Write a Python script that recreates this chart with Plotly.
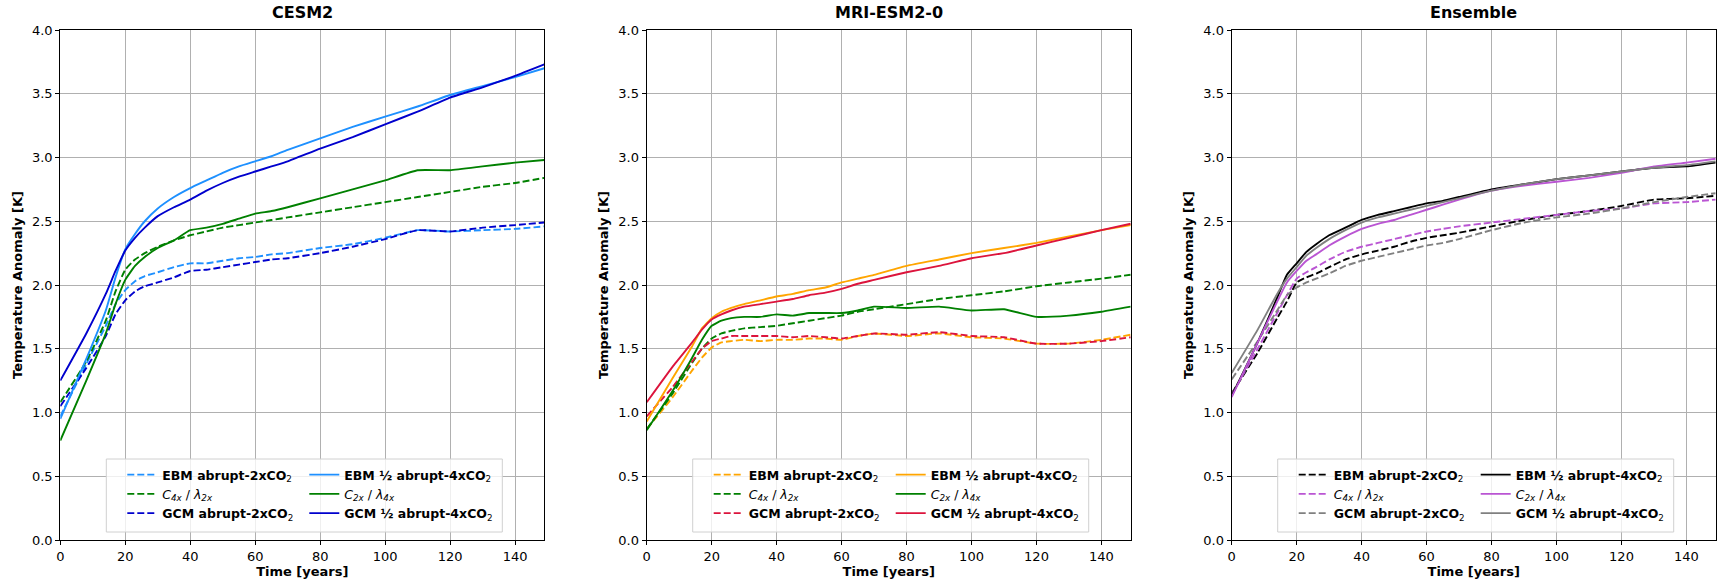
import plotly.graph_objects as go

# Years at which each temperature-anomaly series is sampled
years = [0, 8, 14, 17, 20, 23, 26, 30, 35, 40, 45, 50, 55, 60, 65, 70,
         80, 90, 100, 110, 120, 130, 140, 149]

# ---- CESM2 ----
cesm_ebm_2x = [0.97, 1.38, 1.68, 1.85, 1.96, 2.03, 2.07, 2.10, 2.14, 2.17, 2.17, 2.19,
               2.21, 2.22, 2.24, 2.25, 2.29, 2.32, 2.37, 2.43, 2.42, 2.43, 2.44, 2.46]
cesm_c4x_l2x = [1.08, 1.40, 1.72, 1.95, 2.12, 2.20, 2.25, 2.30, 2.35, 2.39, 2.42, 2.45,
                2.47, 2.49, 2.51, 2.53, 2.57, 2.61, 2.65, 2.69, 2.73, 2.77, 2.80, 2.84]
cesm_gcm_2x = [1.05, 1.35, 1.60, 1.77, 1.88, 1.95, 1.99, 2.02, 2.06, 2.11, 2.12, 2.14,
               2.16, 2.18, 2.20, 2.21, 2.25, 2.30, 2.36, 2.43, 2.42, 2.45, 2.47, 2.49]
cesm_ebm_4x = [0.95, 1.42, 1.80, 2.06, 2.28, 2.40, 2.50, 2.60, 2.69, 2.76, 2.82, 2.88,
               2.93, 2.97, 3.01, 3.06, 3.15, 3.24, 3.32, 3.40, 3.49, 3.56, 3.63, 3.70]
cesm_c2x_l4x = [0.78, 1.25, 1.62, 1.85, 2.04, 2.15, 2.22, 2.29, 2.35, 2.43, 2.45, 2.48,
                2.52, 2.56, 2.58, 2.61, 2.68, 2.75, 2.82, 2.90, 2.90, 2.93, 2.96, 2.98]
cesm_gcm_4x = [1.25, 1.62, 1.93, 2.11, 2.27, 2.37, 2.45, 2.54, 2.61, 2.67, 2.74, 2.80,
               2.85, 2.89, 2.93, 2.97, 3.07, 3.16, 3.26, 3.36, 3.47, 3.55, 3.64, 3.73]

# ---- MRI-ESM2-0 ----
mri_ebm_2x = [0.87, 1.12, 1.33, 1.43, 1.51, 1.55, 1.56, 1.57, 1.56, 1.57, 1.57, 1.58,
              1.58, 1.57, 1.60, 1.62, 1.60, 1.62, 1.59, 1.58, 1.54, 1.54, 1.57, 1.61]
mri_c4x_l2x = [0.87, 1.15, 1.39, 1.50, 1.58, 1.62, 1.64, 1.66, 1.67, 1.68, 1.70, 1.72,
               1.74, 1.76, 1.79, 1.81, 1.85, 1.89, 1.92, 1.95, 1.99, 2.02, 2.05, 2.08]
mri_gcm_2x = [0.97, 1.20, 1.40, 1.50, 1.56, 1.58, 1.60, 1.60, 1.60, 1.60, 1.59, 1.60,
              1.59, 1.58, 1.60, 1.62, 1.61, 1.63, 1.60, 1.59, 1.54, 1.54, 1.56, 1.59]
mri_ebm_4x = [0.93, 1.27, 1.52, 1.66, 1.74, 1.79, 1.82, 1.85, 1.88, 1.91, 1.93, 1.96,
              1.98, 2.02, 2.05, 2.08, 2.15, 2.20, 2.25, 2.29, 2.33, 2.38, 2.43, 2.47]
mri_c2x_l4x = [0.86, 1.17, 1.43, 1.57, 1.68, 1.72, 1.74, 1.75, 1.75, 1.77, 1.76, 1.78,
               1.78, 1.78, 1.80, 1.83, 1.82, 1.83, 1.80, 1.81, 1.75, 1.76, 1.79, 1.83]
mri_gcm_4x = [1.08, 1.36, 1.55, 1.65, 1.73, 1.77, 1.80, 1.83, 1.85, 1.87, 1.89, 1.92,
              1.94, 1.97, 2.01, 2.04, 2.10, 2.15, 2.21, 2.25, 2.31, 2.37, 2.43, 2.48]

# ---- Ensemble ----
ens_ebm_2x = [1.15, 1.47, 1.74, 1.87, 2.02, 2.06, 2.09, 2.14, 2.20, 2.24, 2.27, 2.30,
              2.34, 2.37, 2.39, 2.41, 2.46, 2.51, 2.55, 2.58, 2.62, 2.67, 2.68, 2.70]
ens_c4x_l2x = [1.14, 1.50, 1.78, 1.92, 2.05, 2.10, 2.14, 2.20, 2.26, 2.30, 2.33, 2.36,
               2.39, 2.42, 2.44, 2.46, 2.49, 2.52, 2.55, 2.58, 2.60, 2.64, 2.65, 2.67]
ens_gcm_2x = [1.26, 1.56, 1.80, 1.92, 1.98, 2.02, 2.05, 2.09, 2.15, 2.19, 2.22, 2.25,
              2.28, 2.31, 2.33, 2.36, 2.43, 2.49, 2.53, 2.56, 2.60, 2.65, 2.69, 2.72]
ens_ebm_4x = [1.13, 1.55, 1.90, 2.08, 2.17, 2.26, 2.32, 2.39, 2.45, 2.51, 2.55, 2.58,
              2.61, 2.64, 2.66, 2.69, 2.75, 2.79, 2.83, 2.86, 2.89, 2.92, 2.93, 2.96]
ens_c2x_l4x = [1.12, 1.55, 1.87, 2.02, 2.11, 2.19, 2.24, 2.31, 2.38, 2.44, 2.48, 2.51,
               2.55, 2.59, 2.63, 2.67, 2.74, 2.78, 2.81, 2.84, 2.88, 2.93, 2.96, 2.99]
ens_gcm_4x = [1.31, 1.65, 1.93, 2.05, 2.14, 2.23, 2.29, 2.36, 2.43, 2.49, 2.53, 2.56,
              2.59, 2.62, 2.65, 2.68, 2.74, 2.79, 2.83, 2.86, 2.89, 2.92, 2.94, 2.97]

panel_titles = ["CESM2", "MRI-ESM2-0", "Ensemble"]
x_ticks = [0, 20, 40, 60, 80, 100, 120, 140]
y_ticks = [0, 0.5, 1, 1.5, 2, 2.5, 3, 3.5, 4]
y_ticktext = ["0.0", "0.5", "1.0", "1.5", "2.0", "2.5", "3.0", "3.5", "4.0"]

# Legend labels
lbl_ebm_2x = "<b>EBM abrupt-2xCO</b><sub>2</sub>"
lbl_c4x = "<i>C</i><sub><i>4x</i></sub> / <i>λ</i><sub><i>2x</i></sub>"
lbl_gcm_2x = "<b>GCM abrupt-2xCO</b><sub>2</sub>"
lbl_ebm_4x = "<b>EBM ½ abrupt-4xCO</b><sub>2</sub>"
lbl_c2x = "<i>C</i><sub><i>2x</i></sub> / <i>λ</i><sub><i>4x</i></sub>"
lbl_gcm_4x = "<b>GCM ½ abrupt-4xCO</b><sub>2</sub>"

panels = [
    dict(ebm2=cesm_ebm_2x, c4=cesm_c4x_l2x, gcm2=cesm_gcm_2x,
         ebm4=cesm_ebm_4x, c2=cesm_c2x_l4x, gcm4=cesm_gcm_4x,
         ebm_col="#1e90ff", c_col="#008000", gcm_col="#0000cd"),
    dict(ebm2=mri_ebm_2x, c4=mri_c4x_l2x, gcm2=mri_gcm_2x,
         ebm4=mri_ebm_4x, c2=mri_c2x_l4x, gcm4=mri_gcm_4x,
         ebm_col="#ffa500", c_col="#008000", gcm_col="#dc143c"),
    dict(ebm2=ens_ebm_2x, c4=ens_c4x_l2x, gcm2=ens_gcm_2x,
         ebm4=ens_ebm_4x, c2=ens_c2x_l4x, gcm4=ens_gcm_4x,
         ebm_col="#000000", c_col="#ba55d3", gcm_col="#808080"),
]

W, H = 1720, 585
FONT = "DejaVu Sans"
plot_left = [60.3, 646.7, 1231.7]
plot_w = 484
plot_top, plot_bot = 30, 540
ydom = [1 - plot_bot / H, 1 - plot_top / H]

# legend frame (pixels relative to each panel's left edge / figure top)
leg_left, leg_w = 46, 396
leg_top, leg_bot = 459, 532
col1_offset = 16
col2_offset = 198

DASH = "7px,3px"
LW = 1.9

fig = go.Figure()

for i, p in enumerate(panels):
    ax = "" if i == 0 else str(i + 1)
    leg_a = "legend" if i == 0 else f"legend{2 * i + 1}"
    leg_b = f"legend{2 * i + 2}"
    # left legend column: 2xCO2 runs; right legend column: halved 4xCO2 runs
    entries = [
        (p["ebm2"], p["ebm_col"], DASH, lbl_ebm_2x, leg_a),
        (p["c4"], p["c_col"], DASH, lbl_c4x, leg_a),
        (p["gcm2"], p["gcm_col"], DASH, lbl_gcm_2x, leg_a),
        (p["ebm4"], p["ebm_col"], "solid", lbl_ebm_4x, leg_b),
        (p["c2"], p["c_col"], "solid", lbl_c2x, leg_b),
        (p["gcm4"], p["gcm_col"], "solid", lbl_gcm_4x, leg_b),
    ]
    for k, (vals, col, dash, name, leg) in enumerate(entries):
        fig.add_trace(go.Scatter(
            x=years, y=vals, mode="lines", name=name,
            line=dict(color=col, width=LW, dash=dash, shape="spline", smoothing=0.4),
            xaxis="x" + ax, yaxis="y" + ax, legend=leg, legendrank=k + 1,
        ))

    x0 = plot_left[i] / W
    x1 = (plot_left[i] + plot_w) / W
    axis_common = dict(
        showline=True, linecolor="black", linewidth=1.2, mirror=True,
        ticks="outside", ticklen=4, tickwidth=1, tickcolor="black",
        showgrid=True, gridcolor="#b0b0b0", gridwidth=1, zeroline=False,
        tickfont=dict(family=FONT, size=13, color="black"),
        automargin=False,
    )
    fig.layout["xaxis" + ax] = dict(
        domain=[x0, x1], range=[0, 149], tickvals=x_ticks,
        anchor="y" + ax,
        title=dict(text="<b>Time [years]</b>", font=dict(family=FONT, size=13, color="black"),
                   standoff=2),
        **axis_common,
    )
    fig.layout["yaxis" + ax] = dict(
        domain=ydom, range=[0, 4], tickvals=y_ticks, ticktext=y_ticktext,
        anchor="x" + ax,
        title=dict(text="<b>Temperature Anomaly [K]</b>",
                   font=dict(family=FONT, size=13, color="black"), standoff=6),
        **axis_common,
    )

    box_l = plot_left[i] + leg_left
    legend_common = dict(
        orientation="v", yanchor="top", y=1 - (leg_top + 1) / H, xanchor="left",
        itemwidth=30, tracegroupgap=0, traceorder="normal",
        bgcolor="rgba(0,0,0,0)", borderwidth=0,
        font=dict(family=FONT, size=12.5, color="black"),
    )
    fig.layout[leg_a] = dict(x=(box_l + col1_offset) / W, **legend_common)
    fig.layout[leg_b] = dict(x=(box_l + col2_offset) / W, **legend_common)

    # legend frame drawn behind both legend columns
    fig.add_shape(
        type="rect", xref="paper", yref="paper",
        x0=box_l / W, x1=(box_l + leg_w) / W,
        y0=1 - leg_bot / H, y1=1 - leg_top / H,
        line=dict(color="#d0d0d0", width=1), fillcolor="rgba(255,255,255,0.8)",
        layer="above",
    )

    fig.add_annotation(
        text=f"<b>{panel_titles[i]}</b>", xref="paper", yref="paper",
        x=(plot_left[i] + plot_w / 2) / W, y=1 - 12 / H, xanchor="center", yanchor="middle",
        showarrow=False, font=dict(family=FONT, size=16, color="black"),
    )

fig.update_layout(
    width=W, height=H, margin=dict(l=0, r=0, t=0, b=0),
    paper_bgcolor="white", plot_bgcolor="white", showlegend=True,
    font=dict(family=FONT),
)

fig.write_html("out.html")
